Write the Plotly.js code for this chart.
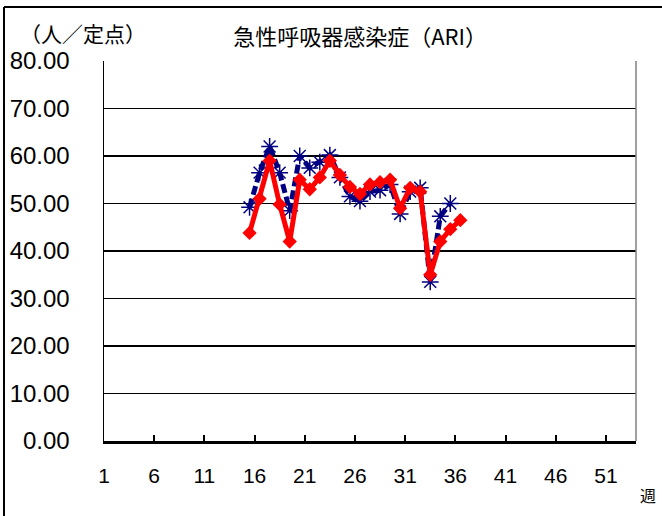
<!DOCTYPE html>
<html>
<head>
<meta charset="utf-8">
<script src="https://cdn.plot.ly/plotly-3.0.1.min.js"></script>
<style>
  html, body { margin: 0; padding: 0; background: #fff; }
  #chart { width: 662px; height: 516px; }
</style>
</head>
<body>
<div id="chart"></div>
<script>
// Week numbers of the series
const weeksBlue = [15,16,17,18,19,20,21,22,23,24,25,26,27,28,29,30,31,32,33,34,35];
const valuesBlue = [49.2,56.5,62.0,56.5,48.5,60.0,57.5,58.7,60.2,55.5,51.5,50.5,52.5,52.8,54.0,47.8,52.5,53.3,33.5,47.3,50.0];

const weeksRed = [15,16,17,18,19,20,21,22,23,24,25,26,27,28,29,30,31,32,33,34,35,36];
const valuesRed = [43.8,51.0,59.0,49.8,42.0,55.0,53.0,55.5,59.0,56.0,53.5,52.0,54.0,54.5,55.0,49.0,53.3,52.5,35.0,42.0,44.6,46.5];

const xTickLabels = [1,6,11,16,21,26,31,36,41,46,51];
const yTickValues = [0,10,20,30,40,50,60,70,80];

const traces = [
  {
    x: weeksBlue, y: valuesBlue, type: 'scatter', mode: 'lines+markers',
    line: {color: '#000080', width: 5, dash: '9px,4px'},
    marker: {symbol: 'asterisk-open', size: 14, color: '#000080', line: {color: '#000080', width: 1.5}},
    hoverinfo: 'skip', showlegend: false
  },
  {
    x: weeksRed, y: valuesRed, type: 'scatter', mode: 'lines+markers',
    line: {color: '#FF0000', width: 5},
    marker: {symbol: 'diamond', size: 11, color: '#FF0000'},
    hoverinfo: 'skip', showlegend: false
  }
];

const layout = {
  width: 662, height: 516,
  margin: {l: 104, r: 26, t: 61, b: 75},
  paper_bgcolor: '#ffffff', plot_bgcolor: '#ffffff',
  font: {family: '"Liberation Sans", "Noto Sans CJK JP", sans-serif', color: '#000'},
  title: {
    text: '急性呼吸器感染症（ARI）',
    font: {family: '"Noto Sans CJK JP", sans-serif', size: 22, color: '#000'},
    x: 0.544, xanchor: 'center', y: 0.928, yanchor: 'middle'
  },
  xaxis: {
    type: 'linear', range: [0.5, 53.5],
    tickmode: 'array',
    tickvals: xTickLabels.map(v => v - 0.5),
    ticktext: xTickLabels.map(String),
    ticks: 'inside', ticklen: 6, tickwidth: 2, tickcolor: '#000',
    ticklabelstandoff: 14,
    showgrid: false, zeroline: false,
    showline: true, linecolor: '#000', linewidth: 2.5,
    tickfont: {size: 21, family: '"Liberation Sans", sans-serif', color: '#000'},
    fixedrange: true
  },
  yaxis: {
    range: [0, 80],
    tickmode: 'array', tickvals: yTickValues,
    tickformat: '.2f',
    ticks: '', ticklabelstandoff: 28,
    showgrid: true, gridcolor: '#000', gridwidth: 1.8,
    zeroline: false,
    showline: true, linecolor: '#000', linewidth: 1.5,
    tickfont: {size: 24, family: '"Liberation Sans", sans-serif', color: '#000'},
    fixedrange: true
  },
  shapes: [
    {type: 'line', xref: 'paper', yref: 'paper', x0: 1, x1: 1, y0: 0, y1: 1, line: {color: '#808080', width: 1.5}},
    {type: 'line', xref: 'paper', yref: 'paper', x0: -0.188, x1: 1.2, y0: 1.142, y1: 1.142, line: {color: '#000', width: 2}},
    {type: 'line', xref: 'paper', yref: 'paper', x0: -0.188, x1: -0.188, y0: 1.142, y1: -0.3, line: {color: '#000', width: 2}}
  ],
  annotations: [
    {
      text: '（人／定点）', xref: 'paper', yref: 'paper',
      x: -0.162, y: 1.074, xanchor: 'left', yanchor: 'middle', showarrow: false,
      font: {family: '"Noto Sans CJK JP", sans-serif', size: 21, color: '#000'}
    },
    {
      text: '週', xref: 'paper', yref: 'paper',
      x: 1.0226, y: -0.142, xanchor: 'center', yanchor: 'middle', showarrow: false,
      font: {family: '"Noto Sans CJK JP", sans-serif', size: 16, color: '#000'}
    }
  ]
};

Plotly.newPlot('chart', traces, layout, {staticPlot: true, displayModeBar: false});
</script>
</body>
</html>
